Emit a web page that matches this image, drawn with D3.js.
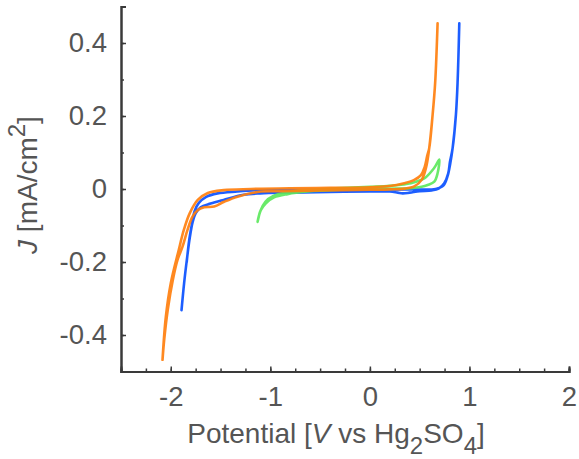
<!DOCTYPE html>
<html>
<head>
<meta charset="utf-8">
<script src="https://cdn.jsdelivr.net/npm/d3@7"></script>
<style>
  body { margin: 0; background: #fff; }
  svg { display: block; font-family: "Liberation Sans", Arial, sans-serif; }
</style>
</head>
<body>
<svg id="mount" width="579" height="459"></svg>
<script>
// Axis ticks
var xTicks = [-2, -1, 0, 1, 2];
var yTicks = [-0.4, -0.2, 0, 0.2, 0.4];

// Blue sweep (potential V, current density mA/cm2)
var blueV = [-1.892, -1.866, -1.839, -1.81, -1.78, -1.749, -1.70, -1.60, -1.47, -1.27, -1.10, -0.8, -0.4, 0.0, 0.2, 0.28, 0.33, 0.40, 0.50, 0.62, 0.69, 0.747, 0.787, 0.804, 0.831, 0.864, 0.881, 0.898,
  0.881, 0.864, 0.831, 0.806, 0.78, 0.74, 0.66, 0.4, 0.1, -0.4, -0.8, -1.10, -1.33, -1.53, -1.648, -1.718, -1.76, -1.79, -1.815, -1.84];
var blueJ = [-0.332, -0.258, -0.195, -0.135, -0.09, -0.066, -0.050, -0.040, -0.030, -0.016, -0.012, -0.010, -0.008, -0.007, -0.007, -0.010, -0.012, -0.010, -0.006, -0.004, 0.001, 0.016, 0.043, 0.074, 0.112, 0.203, 0.293, 0.454,
  0.293, 0.203, 0.112, 0.068, 0.035, 0.010, 0.0, -0.001, -0.002, -0.002, -0.002, -0.003, -0.007, -0.012, -0.022, -0.038, -0.06, -0.10, -0.14, -0.20];

// Green sweep
var greenV = [-1.128, -1.096, -1.045, -0.962, -0.827, -0.626, -0.3, 0.0, 0.3, 0.412, 0.52, 0.580, 0.647, 0.680, 0.697,
  0.665, 0.630, 0.546, 0.412, 0.2, 0.0, -0.4, -0.7, -0.85, -0.97, -1.05, -1.10, -1.125];
var greenJ = [-0.090, -0.058, -0.039, -0.023, -0.014, -0.007, -0.002, 0.0, 0.001, 0.002, 0.006, 0.011, 0.020, 0.043, 0.081,
  0.066, 0.052, 0.029, 0.016, 0.009, 0.006, 0.001, -0.004, -0.010, -0.019, -0.035, -0.060, -0.086];

// Orange sweep
var orangeV = [-2.083, -2.05, -2.0, -1.92, -1.869, -1.809, -1.729, -1.628, -1.467, -1.196, -0.8, -0.4, 0.0, 0.2, 0.345, 0.446, 0.513, 0.55, 0.575, 0.596, 0.630, 0.656, 0.680,
  0.656, 0.630, 0.596, 0.565, 0.52, 0.45, 0.35, 0.2, 0.0, -0.5, -0.9, -1.094, -1.330, -1.464, -1.564, -1.665, -1.731, -1.782, -1.832, -1.882, -1.933, -1.98, -2.03, -2.065, -2.083];
var orangeJ = [-0.468, -0.351, -0.258, -0.167, -0.112, -0.066, -0.030, -0.011, -0.003, 0.0, 0.002, 0.003, 0.005, 0.008, 0.016, 0.025, 0.038, 0.060, 0.090, 0.112, 0.203, 0.293, 0.454,
  0.293, 0.203, 0.112, 0.06, 0.025, 0.008, 0.001, -0.001, -0.002, -0.004, -0.006, -0.007, -0.021, -0.035, -0.048, -0.050, -0.058, -0.076, -0.112, -0.158, -0.195, -0.25, -0.33, -0.41, -0.468];

var series = [
  { v: blueV, j: blueJ, color: "#0a50ff" },
  { v: greenV, j: greenJ, color: "#5de85d" },
  { v: orangeV, j: orangeJ, color: "#ff7f0e" }
];

var textColor = "#555555";
var axisColor = "#3a3a3a";

var svg = d3.select("#mount");
var margin = { top: 6.5, right: 10, bottom: 87.5, left: 121 };
var width = 579 - margin.left - margin.right;
var height = 459 - margin.top - margin.bottom;

var g = svg.append("g")
  .attr("transform", "translate(" + margin.left + "," + margin.top + ")");

var xScale = d3.scaleLinear().domain([-2.5, 2]).range([0, width]);
var yScale = d3.scaleLinear().domain([-0.5, 0.5]).range([height, 0]);

// minor ticks
var xMinor = d3.range(-2.5, 2.001, 0.25);
var yMinor = d3.range(-0.5, 0.501, 0.1);

g.append("g")
  .attr("transform", "translate(0," + height + ")")
  .call(d3.axisBottom(xScale).tickValues(xMinor).tickSize(-3).tickFormat(""));
g.append("g")
  .call(d3.axisLeft(yScale).tickValues(yMinor).tickSize(-3).tickFormat(""));

// major ticks + labels
g.append("g")
  .attr("transform", "translate(0," + height + ")")
  .call(d3.axisBottom(xScale).tickValues(xTicks).tickSize(-5).tickPadding(15)
    .tickFormat(function(d) { return String(d); }));
g.append("g")
  .call(d3.axisLeft(yScale).tickValues(yTicks).tickSize(-5).tickPadding(14)
    .tickFormat(function(d) { return String(d); }));

g.selectAll(".domain").attr("stroke", axisColor).attr("stroke-width", 2);
g.selectAll(".tick line").attr("stroke", axisColor).attr("stroke-width", 1.5);
g.selectAll(".tick text")
  .attr("fill", textColor)
  .style("font-size", "27.5px");

// curves
var line = d3.line()
  .curve(d3.curveCatmullRom.alpha(0.5))
  .x(function(d) { return xScale(d[0]); })
  .y(function(d) { return yScale(d[1]); });

series.forEach(function(s) {
  var pts = s.v.map(function(v, i) { return [v, s.j[i]]; });
  g.append("path")
    .datum(pts)
    .attr("fill", "none")
    .attr("stroke", s.color)
    .attr("stroke-width", 2.6)
    .attr("stroke-linejoin", "round")
    .attr("stroke-linecap", "round")
    .attr("stroke-opacity", 0.92)
    .attr("d", line);
});

// x label
var xl = svg.append("text")
  .attr("x", 336)
  .attr("y", 443)
  .attr("text-anchor", "middle")
  .attr("fill", textColor)
  .style("font-size", "28px");
xl.append("tspan").text("Potential [");
xl.append("tspan").style("font-style", "italic").text("V");
xl.append("tspan").text(" vs Hg");
xl.append("tspan").attr("dy", 11).style("font-size", "24px").text("2");
xl.append("tspan").attr("dy", -11).text("SO");
xl.append("tspan").attr("dy", 11).style("font-size", "24px").text("4");
xl.append("tspan").attr("dy", -11).text("]");

// y label
var yl = svg.append("text")
  .attr("transform", "translate(37,185) rotate(-90)")
  .attr("text-anchor", "middle")
  .attr("fill", textColor)
  .style("font-size", "28px");
yl.append("tspan").style("font-style", "italic").text("J");
yl.append("tspan").text(" [mA/cm");
yl.append("tspan").attr("dy", -12).style("font-size", "24px").text("2");
yl.append("tspan").attr("dy", 12).text("]");
</script>
</body>
</html>
